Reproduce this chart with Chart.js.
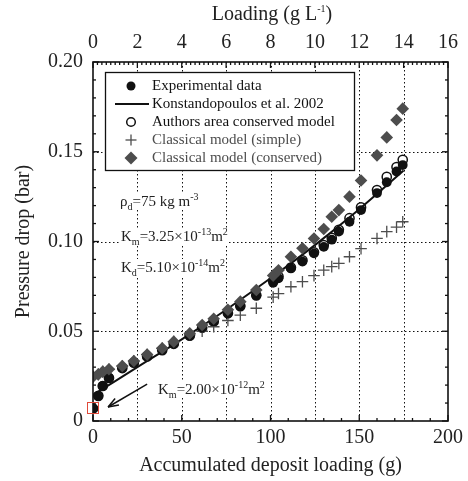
<!DOCTYPE html>
<html>
<head>
<meta charset="utf-8">
<script src="https://cdn.jsdelivr.net/npm/chart.js@4.4.1/dist/chart.umd.min.js"></script>
<style>
  html, body { margin: 0; padding: 0; background: #fff; }
  #wrap { position: relative; width: 468px; height: 481px; }
  #wrap canvas { position: absolute; left: 0; top: 0; }
  .txt { position: absolute; font-family: "Liberation Serif", serif; color: #222; white-space: nowrap; }
  .note { font-size: 15px; line-height: 17px; background: #fff; padding: 0 1px; }
  .txt sub, .txt sup { font-size: 10px; line-height: 0; }
  #topTitle { font-size: 20px; left: 0; width: 544px; text-align: center; top: 2px; }
</style>
</head>
<body>
<div id="wrap">
  <canvas id="chart" width="468" height="481"></canvas>
  <div class="txt" id="topTitle">Loading (g L<sup>-1</sup>)</div>
  <div class="txt note" style="left:119px;top:193px;">ρ<sub>d</sub>=75 kg m<sup>-3</sup></div>
  <div class="txt note" style="left:120px;top:228px;">K<sub>m</sub>=3.25×10<sup>-13</sup>m<sup>2</sup></div>
  <div class="txt note" style="left:120px;top:259px;">K<sub>d</sub>=5.10×10<sup>-14</sup>m<sup>2</sup></div>
  <div class="txt note" style="left:157px;top:381px;">K<sub>m</sub>=2.00×10<sup>-12</sup>m<sup>2</sup></div>
</div>
<script>
// accumulated deposit loading (g) shared by the measured and model points
const loading = [0, 3, 5.5, 9, 16.5, 23, 30.5, 39, 45.5, 54.5, 61.5, 68, 76, 83, 92,
  101.5, 104.5, 111.5, 118, 124.5, 130, 134.5, 138.5, 144.5, 151, 160, 165.5, 171, 174.5];

const experimental = [0.007, 0.014, 0.0195, 0.024, 0.0295, 0.0325, 0.036, 0.0395, 0.043, 0.0475,
  0.052, 0.0555, 0.060, 0.064, 0.070, 0.077, 0.0795, 0.085, 0.0888, 0.0934, 0.097, 0.101,
  0.1055, 0.111, 0.1175, 0.127, 0.133, 0.139, 0.1426];

const areaConserved = [0.007, 0.014, 0.0195, 0.024, 0.0295, 0.0325, 0.036, 0.0395, 0.043, 0.0475,
  0.052, 0.0555, 0.060, 0.064, 0.070, 0.078, 0.0805, 0.0855, 0.0895, 0.094, 0.098, 0.102,
  0.1065, 0.113, 0.119, 0.1287, 0.136, 0.1415, 0.1455];

const classicSimple = [0.0247, 0.026, 0.0275, 0.0288, 0.0306, 0.0334, 0.037, 0.0405, 0.0442, 0.048,
  0.050, 0.0525, 0.056, 0.059, 0.0628, 0.069, 0.071, 0.0748, 0.0776, 0.081, 0.084, 0.086,
  0.0878, 0.0915, 0.096, 0.1017, 0.1055, 0.108, 0.111];

const classicConserved = [0.0247, 0.026, 0.0275, 0.0288, 0.0306, 0.0334, 0.037, 0.0405, 0.0442, 0.0488,
  0.0535, 0.057, 0.062, 0.0665, 0.073, 0.081, 0.084, 0.0915, 0.0962, 0.1017, 0.107, 0.1138,
  0.1175, 0.125, 0.134, 0.148, 0.158, 0.1677, 0.174];

// Konstandopoulos et al. 2002 curve
const konstX = [0, 25, 50, 75, 100, 125, 150, 175];
const konstY = [0.0145, 0.030, 0.0455, 0.062, 0.0795, 0.098, 0.118, 0.1395];

const bottomTicks = [0, 50, 100, 150, 200];
const topTicks = [0, 2, 4, 6, 8, 10, 12, 14, 16];
const leftTicks = [0, 0.05, 0.10, 0.15, 0.20];

const pts = (xs, ys) => xs.map((x, i) => ({ x: x, y: ys[i] }));
const FONT = '"Liberation Serif", serif';
const GREY = '#4d4d4d';

const framePlugin = {
  id: 'frame',
  beforeDatasetsDraw(chart) {
    const { ctx, chartArea: a, scales } = chart;
    ctx.save();
    ctx.strokeStyle = '#111';
    ctx.lineWidth = 1;
    ctx.setLineDash([1.5, 2.5]);
    topTicks.slice(1, -1).forEach(v => {
      const x = Math.round(scales.x2.getPixelForValue(v)) + 0.5;
      ctx.beginPath(); ctx.moveTo(x, a.top); ctx.lineTo(x, a.bottom); ctx.stroke();
    });
    leftTicks.slice(1, -1).forEach(v => {
      const y = Math.round(scales.y.getPixelForValue(v)) + 0.5;
      ctx.beginPath(); ctx.moveTo(a.left, y); ctx.lineTo(a.right, y); ctx.stroke();
    });
    ctx.restore();
  },
  afterDatasetsDraw(chart) {
    const { ctx, chartArea: a, scales } = chart;
    ctx.save();
    ctx.strokeStyle = '#111';
    ctx.lineWidth = 1.3;
    // minor/major ticks, all pointing inwards
    const tick = (x1, y1, x2, y2) => { ctx.beginPath(); ctx.moveTo(x1, y1); ctx.lineTo(x2, y2); ctx.stroke(); };
    for (let v = 0; v <= 200; v += 10) {
      const x = scales.x.getPixelForValue(v);
      tick(x, a.bottom, x, a.bottom - (v % 50 === 0 ? 6 : 3));
    }
    for (let i = 0; i <= 80; i++) {
      const x = scales.x2.getPixelForValue(i * 0.2);
      tick(x, a.top, x, a.top + (i % 10 === 0 ? 6 : 3));
    }
    for (let i = 0; i <= 20; i++) {
      const y = scales.y.getPixelForValue(i * 0.01);
      const len = i % 5 === 0 ? 6 : 3;
      tick(a.left, y, a.left + len, y);
      tick(a.right, y, a.right - len, y);
    }
    ctx.lineWidth = 1.6;
    ctx.strokeRect(a.left, a.top, a.right - a.left, a.bottom - a.top);

    // legend box
    const lx = 105, ly = 72, lw = 249, lh = 98;
    ctx.fillStyle = '#fff';
    ctx.fillRect(lx, ly, lw, lh);
    ctx.lineWidth = 1.3;
    ctx.strokeRect(lx + 0.5, ly + 0.5, lw, lh);
    const rows = [
      ['Experimental data', '#111', 'dot'],
      ['Konstandopoulos et al. 2002', '#111', 'line'],
      ['Authors area conserved model', '#111', 'open'],
      ['Classical model (simple)', GREY, 'plus'],
      ['Classical model (conserved)', GREY, 'diamond']
    ];
    ctx.font = '15px ' + FONT;
    ctx.textBaseline = 'middle';
    rows.forEach((r, i) => {
      const y = 86 + i * 18;
      const mx = 131;
      ctx.fillStyle = r[1];
      ctx.fillText(r[0], 152, y);
      ctx.strokeStyle = '#111';
      ctx.fillStyle = '#111';
      if (r[2] === 'dot') {
        ctx.beginPath(); ctx.arc(mx, y, 4.5, 0, Math.PI * 2); ctx.fill();
      } else if (r[2] === 'line') {
        ctx.lineWidth = 2; tick(115, y, 149, y);
      } else if (r[2] === 'open') {
        ctx.lineWidth = 1.5; ctx.beginPath(); ctx.arc(mx, y, 4.3, 0, Math.PI * 2); ctx.stroke();
      } else if (r[2] === 'plus') {
        ctx.strokeStyle = GREY; ctx.lineWidth = 1.3;
        tick(mx - 5.5, y, mx + 5.5, y); tick(mx, y - 5.5, mx, y + 5.5);
      } else {
        ctx.fillStyle = GREY;
        ctx.beginPath(); ctx.moveTo(mx, y - 6.5); ctx.lineTo(mx + 6.5, y); ctx.lineTo(mx, y + 6.5); ctx.lineTo(mx - 6.5, y); ctx.closePath(); ctx.fill();
      }
    });

    // red marker around the first measured point, and the arrow to it
    const px = scales.x.getPixelForValue(loading[0]);
    const py = scales.y.getPixelForValue(experimental[0]);
    ctx.strokeStyle = '#e04a3a';
    ctx.lineWidth = 1;
    ctx.strokeRect(Math.round(px) - 5.5, Math.round(py) - 5.5, 11, 11);
    const tx = scales.x.getPixelForValue(30.5), ty = scales.y.getPixelForValue(0.0205);
    const hx = scales.x.getPixelForValue(8.5), hy = scales.y.getPixelForValue(0.0078);
    ctx.strokeStyle = '#111';
    ctx.lineWidth = 1.5;
    tick(tx, ty, hx, hy);
    const ang = Math.atan2(ty - hy, tx - hx);
    tick(hx, hy, hx + 11 * Math.cos(ang - 0.35), hy + 11 * Math.sin(ang - 0.35));
    tick(hx, hy, hx + 11 * Math.cos(ang + 0.35), hy + 11 * Math.sin(ang + 0.35));
    ctx.restore();
  }
};

new Chart(document.getElementById('chart'), {
  type: 'scatter',
  data: {
    datasets: [
      {
        label: 'Classical model (conserved)',
        data: pts(loading, classicConserved),
        pointStyle: 'rectRot', pointRadius: 6.3,
        backgroundColor: GREY, borderColor: GREY, borderWidth: 0
      },
      {
        label: 'Konstandopoulos et al. 2002',
        type: 'line',
        data: pts(konstX, konstY),
        borderColor: '#111', borderWidth: 2, pointRadius: 0,
        cubicInterpolationMode: 'monotone', fill: false
      },
      {
        label: 'Experimental data',
        data: pts(loading, experimental),
        pointStyle: 'circle', pointRadius: 4.9,
        backgroundColor: '#111', borderColor: '#111', borderWidth: 0
      },
      {
        label: 'Classical model (simple)',
        data: pts(loading, classicSimple),
        pointStyle: 'cross', pointRadius: 5.8,
        borderColor: GREY, borderWidth: 1.3
      },
      {
        label: 'Authors area conserved model',
        data: pts(loading, areaConserved),
        pointStyle: 'circle', pointRadius: 4.6,
        backgroundColor: '#fff', borderColor: '#111', borderWidth: 1.5
      }
    ]
  },
  options: {
    responsive: false,
    animation: false,
    events: [],
    layout: { padding: 0 },
    plugins: { legend: { display: false }, tooltip: { enabled: false } },
    scales: {
      x: {
        type: 'linear', position: 'bottom', min: 0, max: 200,
        afterBuildTicks: s => { s.ticks = bottomTicks.map(v => ({ value: v })); },
        afterFit: s => { s.height = 60; },
        grid: { display: false, drawTicks: false },
        border: { display: false },
        ticks: { color: '#222', padding: 5, font: { family: FONT, size: 20 } },
        title: { display: true, text: 'Accumulated deposit loading (g)', color: '#222',
                 font: { family: FONT, size: 20 }, padding: { top: 0, bottom: 3 } }
      },
      x2: {
        type: 'linear', position: 'top', min: 0, max: 16,
        afterBuildTicks: s => { s.ticks = topTicks.map(v => ({ value: v })); },
        afterFit: s => { s.height = 62; },
        grid: { display: false, drawTicks: false },
        border: { display: false },
        ticks: { color: '#222', padding: 7, font: { family: FONT, size: 20 } }
      },
      y: {
        type: 'linear', position: 'left', min: 0, max: 0.2,
        afterBuildTicks: s => { s.ticks = leftTicks.map(v => ({ value: v })); },
        afterFit: s => { s.width = 93; },
        grid: { display: false, drawTicks: false },
        border: { display: false },
        ticks: { color: '#222', padding: 10, font: { family: FONT, size: 20 },
                 callback: v => v === 0 ? '0' : v.toFixed(2) },
        title: { display: true, text: 'Pressure drop (bar)', color: '#222',
                 font: { family: FONT, size: 20 }, padding: { top: 12, bottom: 0 } }
      },
      y2: {
        type: 'linear', position: 'right', min: 0, max: 0.2,
        afterFit: s => { s.width = 16; },
        grid: { display: false, drawTicks: false },
        border: { display: false },
        ticks: { display: false }
      }
    }
  },
  plugins: [framePlugin]
});
</script>
</body>
</html>
